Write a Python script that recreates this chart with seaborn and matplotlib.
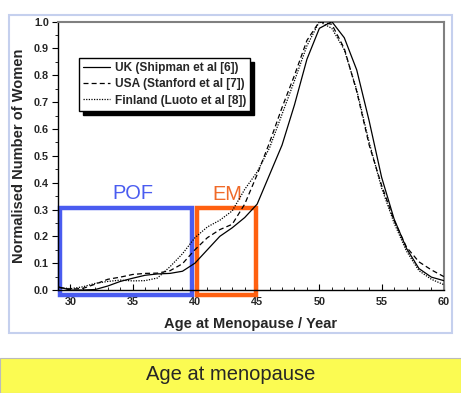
import matplotlib
matplotlib.use('Agg')
import matplotlib.pyplot as plt
import seaborn as sns
from matplotlib.patches import Rectangle
from matplotlib.ticker import MultipleLocator

# normalised distributions of age at natural menopause
ages = list(range(29, 61))
uk = [0.012, 0.0, 0.0, 0.002, 0.015, 0.032, 0.044, 0.055, 0.06, 0.062, 0.07,
      0.1, 0.15, 0.2, 0.232, 0.27, 0.32, 0.43, 0.54, 0.69, 0.86, 0.975, 1.0,
      0.94, 0.82, 0.63, 0.42, 0.265, 0.155, 0.08, 0.048, 0.035]
usa = [0.01, 0.003, 0.006, 0.022, 0.04, 0.048, 0.058, 0.062, 0.063, 0.072, 0.098,
       0.15, 0.195, 0.225, 0.245, 0.32, 0.43, 0.55, 0.68, 0.8, 0.93, 1.0, 0.99,
       0.9, 0.74, 0.54, 0.39, 0.26, 0.16, 0.105, 0.075, 0.05]
finland = [0.01, 0.005, 0.012, 0.025, 0.032, 0.037, 0.034, 0.035, 0.045, 0.087, 0.135,
           0.195, 0.235, 0.26, 0.295, 0.375, 0.44, 0.53, 0.655, 0.78, 0.91, 1.0, 0.975,
           0.895, 0.745, 0.55, 0.38, 0.25, 0.145, 0.072, 0.04, 0.02]
series_labels = ['UK (Shipman et al [6])', 'USA (Stanford et al [7])', 'Finland (Luoto et al [8])']

# highlighted age ranges (premature ovarian failure, early menopause)
pof_range = (29.2, 39.8)
em_range = (40.2, 44.9)
box_top = 0.305
box_bottom = -0.018

blue = '#4a5cf0'
orange = '#ff6010'

sns.set_style('ticks')
plt.rcParams['font.family'] = ['Liberation Sans', 'DejaVu Sans']

fig = plt.figure(figsize=(4.61, 3.93), dpi=100)
fig.patch.set_facecolor('white')
ax = fig.add_axes([0.1258, 0.262, 0.837, 0.683])

styles = ['-', (0, (4, 2.5)), (0, (1, 1.1))]
for vals, lab, ls in zip([uk, usa, finland], series_labels, styles):
    sns.lineplot(x=ages, y=vals, ax=ax, color='black', lw=0.9, linestyle=ls,
                 label=lab, zorder=3)

for (x0, x1), col in [(pof_range, blue), (em_range, orange)]:
    ax.add_patch(Rectangle((x0, box_bottom), x1 - x0, box_top - box_bottom, fill=False,
                           edgecolor=col, lw=3.2, clip_on=False, zorder=2))
ax.text(35.0, 0.36, 'POF', color=blue, fontsize=14.4, ha='center', va='center', zorder=1)
ax.text(42.6, 0.355, 'EM', color='#f06a28', fontsize=14.4, ha='center', va='center', zorder=1)

ax.set_xlim(29, 60)
ax.set_ylim(0, 1.0)
ax.xaxis.set_major_locator(MultipleLocator(5))
ax.xaxis.set_minor_locator(MultipleLocator(1))
ax.yaxis.set_major_locator(MultipleLocator(0.1))
ax.yaxis.set_minor_locator(MultipleLocator(0.05))
ax.tick_params(axis='x', which='both', direction='in', labelsize=7.8, pad=5, color='black')
ax.tick_params(axis='x', which='major', length=4)
ax.tick_params(axis='x', which='minor', length=2.5)
ax.tick_params(axis='y', which='both', direction='out', labelsize=7.8, pad=2.5, color='black')
ax.tick_params(axis='y', which='major', length=4)
ax.tick_params(axis='y', which='minor', length=2)
plt.setp(ax.get_xticklabels() + ax.get_yticklabels(), fontweight='bold')

for side in ['top', 'right']:
    ax.spines[side].set_color('#808080')
    ax.spines[side].set_linewidth(1.5)
for side in ['left', 'bottom']:
    ax.spines[side].set_color('black')
    ax.spines[side].set_linewidth(1)

ax.set_xlabel('Age at Menopause / Year', fontweight='bold', fontsize=10.5, labelpad=7)
ax.set_ylabel('Normalised Number of Women', fontweight='bold', fontsize=10.5, labelpad=6)

ax.legend(loc='upper left', bbox_to_anchor=(0.054, 0.864), borderaxespad=0,
          frameon=True, fancybox=False, edgecolor='black', framealpha=1,
          shadow={'color': 'black', 'alpha': 1, 'ox': 3, 'oy': -3},
          prop={'weight': 'bold', 'size': 8.6}, handlelength=2.3,
          handletextpad=0.35, labelspacing=0.35, borderpad=0.35)

# light frame round the chart and the caption strip below it
fig.patches.append(Rectangle((9 / 461, 60 / 393), 443 / 461, 318 / 393, fill=False,
                             edgecolor='#c5d0ee', lw=1.5, transform=fig.transFigure))
fig.patches.append(Rectangle((0, 0), 1, 35 / 393, facecolor='#fbfb52', edgecolor='#bbbbbb',
                             lw=0.8, transform=fig.transFigure))
fig.text(0.5, 18 / 393, 'Age at menopause', ha='center', va='center', fontsize=14.5)

fig.savefig('out.png', dpi=100)
